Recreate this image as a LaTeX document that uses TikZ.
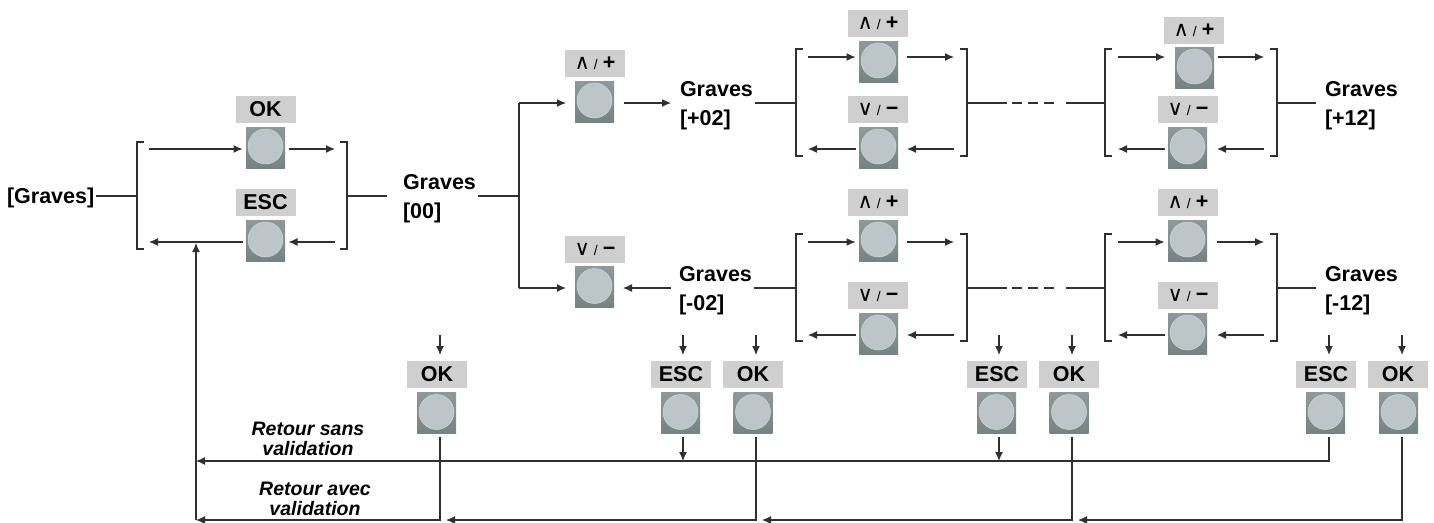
\documentclass[tikz,border=0pt]{standalone}
\usepackage{fontspec}
\setmainfont{Liberation Sans}
\newfontfamily\symfont{DejaVu Sans}
\usetikzlibrary{arrows.meta}

\definecolor{labgray}{HTML}{CFCFCF}
\definecolor{keylight}{HTML}{8E999A}
\definecolor{keydark}{HTML}{768383}
\definecolor{keycap}{HTML}{BCC6C9}
\definecolor{wire}{HTML}{303030}

\newcommand{\upkey}{{\symfont\mdseries\fontsize{21}{21}\selectfont\char"2227}\hspace{4pt}{\mdseries\fontsize{14}{14}\selectfont /}\hspace{5pt}\textbf{+}}
\newcommand{\downkey}{{\symfont\mdseries\fontsize{21}{21}\selectfont\char"2228}\hspace{4pt}{\mdseries\fontsize{14}{14}\selectfont /}\hspace{5pt}\textbf{\char"2212}}

\begin{document}
\begin{tikzpicture}[x=1pt, y=-1pt]

\tikzstyle{every node} = [inner sep=0pt]
\tikzstyle{txt} = [font=\fontsize{21.5}{29}\selectfont\bfseries, align=left, anchor=west, outer sep=2pt]
\tikzstyle{retour} = [font=\fontsize{19.5}{20}\selectfont\bfseries\itshape, align=center]
\tikzstyle{lab} = [rectangle, fill=labgray, minimum width=60pt, minimum height=27pt, outer sep=6pt, font=\fontsize{21.5}{24}\selectfont\bfseries]
\tikzstyle{btn} = [rectangle, top color=keylight, bottom color=keydark, minimum width=39pt, minimum height=41pt, outer sep=3.5pt,
  path picture={\fill[keycap, draw=keycap!70!white, line width=.5pt] (path picture bounding box.center) ++(0,-1) circle (17.5);}]
\tikzstyle{ln} = [wire, line width=1.2pt]
\tikzstyle{arr} = [ln, -{Latex[length=9pt,width=8pt]}]

\useasboundingbox (0,0) rectangle (1434,522);

\node[txt] (g) at (5,198) {[Graves]};
\node[txt] (g0) at (401,199) {Graves\\{[00]}};
\node[txt] (g1) at (678,106) {Graves\\{[+02]}};
\node[txt] (g2) at (677,291) {Graves\\{[-02]}};
\node[txt] (g3) at (1323,106) {Graves\\{[+12]}};
\node[txt] (g4) at (1323,291) {Graves\\{[-12]}};

\node[lab] (lok) at (265.5,109.5) {OK};
\node[btn] (bok) at (265.5,147.5) {};
\node[lab] (lesc) at (265.5,202.5) {ESC};
\node[btn] (besc) at (265.5,240.5) {};

\node[lab] (lp0) at (595,63.5) {\upkey};
\node[btn] (bp0) at (594.5,101.5) {};
\node[lab] (lm0) at (595,249.5) {\downkey};
\node[btn] (bm0) at (594.5,287) {};

\node[lab] (lp1) at (878,23.5) {\upkey};
\node[btn] (bp1) at (878.5,61.5) {};
\node[lab] (lm1) at (878,109.5) {\downkey};
\node[btn] (bm1) at (878.5,147.5) {};

\node[lab] (lp2) at (1194,30) {\upkey};
\node[btn] (bp2) at (1194.5,67.5) {};
\node[lab] (lm2) at (1188,109.5) {\downkey};
\node[btn] (bm2) at (1187.5,147.5) {};

\node[lab] (lp3) at (878,202.5) {\upkey};
\node[btn] (bp3) at (878.5,240.5) {};
\node[lab] (lm3) at (878,295.5) {\downkey};
\node[btn] (bm3) at (878.5,333.5) {};

\node[lab] (lp4) at (1188,202.5) {\upkey};
\node[btn] (bp4) at (1187.5,240.5) {};
\node[lab] (lm4) at (1188,295.5) {\downkey};
\node[btn] (bm4) at (1187.5,333.5) {};

\node[lab] (lok1) at (437,374.5) {OK};
\node[btn] (bok1) at (436.5,413) {};
\node[lab] (lesc1) at (681,374.5) {ESC};
\node[btn] (besc1) at (680.5,413) {};
\node[lab] (lok2) at (753,374.5) {OK};
\node[btn] (bok2) at (753,413) {};
\node[lab] (lesc2) at (997,374.5) {ESC};
\node[btn] (besc2) at (996.5,413) {};
\node[lab] (lok3) at (1069,374.5) {OK};
\node[btn] (bok3) at (1069,413) {};
\node[lab] (lesc3) at (1326,374.5) {ESC};
\node[btn] (besc3) at (1325.5,413) {};
\node[lab] (lok4) at (1398,374.5) {OK};
\node[btn] (bok4) at (1398.5,413) {};

\node[retour] (rs) at (308,439) {Retour sans\\validation};
\node[retour] (ra) at (315,498.5) {Retour avec\\validation};

% junctions
\coordinate (j0a) at (137,196);
\coordinate (j0b) at (347,196);
\coordinate (v1) at (519,103);
\coordinate (v2) at (519,288);
\coordinate (j1a) at (796,103);
\coordinate (j1b) at (967,103);
\coordinate (s1a) at (1007,103);
\coordinate (s1b) at (1066,103);
\coordinate (j2a) at (1105,103);
\coordinate (j2b) at (1277,103);
\coordinate (j3a) at (796,288);
\coordinate (j3b) at (967,288);
\coordinate (s3a) at (1007,288);
\coordinate (s3b) at (1066,288);
\coordinate (j4a) at (1105,288);
\coordinate (j4b) at (1277,288);

% arrow ends inside the brackets
\coordinate (u0a) at (149,149);
\coordinate (u0b) at (335,149);
\coordinate (d0a) at (149,242);
\coordinate (d0b) at (335,242);
\coordinate (u1a) at (808,57);
\coordinate (u1b) at (954,57);
\coordinate (d1a) at (808,149);
\coordinate (d1b) at (954,149);
\coordinate (u2a) at (1118,57);
\coordinate (u2b) at (1264,57);
\coordinate (d2a) at (1118,149);
\coordinate (d2b) at (1264,149);
\coordinate (u3a) at (808,242);
\coordinate (u3b) at (954,242);
\coordinate (d3a) at (808,335);
\coordinate (d3b) at (954,335);
\coordinate (u4a) at (1118,242);
\coordinate (u4b) at (1264,242);
\coordinate (d4a) at (1118,335);
\coordinate (d4b) at (1264,335);

% returns
\coordinate (a1) at (440,335);
\coordinate (a2) at (683,335);
\coordinate (a3) at (756,335);
\coordinate (a4) at (999,335);
\coordinate (a5) at (1072,335);
\coordinate (a6) at (1329,335);
\coordinate (a7) at (1402,335);
\coordinate (r0) at (196,461);
\coordinate (r1) at (196,520);
\coordinate (r2) at (446,520);
\coordinate (r3) at (762,520);
\coordinate (r4) at (1078,520);
\coordinate (r5) at (196,243);

% brackets
\draw[ln] (j0a) ++(7,-54) -- ++(-7,0) -- ++(0,107) -- ++(7,0);
\draw[ln] (j0b) ++(-7,-54) -- ++(7,0) -- ++(0,107) -- ++(-7,0);
\draw[ln] (j1a) ++(7,-54) -- ++(-7,0) -- ++(0,107) -- ++(7,0);
\draw[ln] (j1b) ++(-7,-54) -- ++(7,0) -- ++(0,107) -- ++(-7,0);
\draw[ln] (j2a) ++(7,-54) -- ++(-7,0) -- ++(0,107) -- ++(7,0);
\draw[ln] (j2b) ++(-7,-54) -- ++(7,0) -- ++(0,107) -- ++(-7,0);
\draw[ln] (j3a) ++(7,-54) -- ++(-7,0) -- ++(0,107) -- ++(7,0);
\draw[ln] (j3b) ++(-7,-54) -- ++(7,0) -- ++(0,107) -- ++(-7,0);
\draw[ln] (j4a) ++(7,-54) -- ++(-7,0) -- ++(0,107) -- ++(7,0);
\draw[ln] (j4b) ++(-7,-54) -- ++(7,0) -- ++(0,107) -- ++(-7,0);

\draw[ln] (j0a -| g.east) -- (j0a);
\draw[ln, shorten >=14pt] (j0b) -- (j0b -| g0.west);
\draw[ln] (j0b -| g0.east) -- (j0b -| v1);
\draw[ln] (v1) -- (v2);
\draw[arr, shorten >=5.5pt] (v1) -- (v1 -| bp0.west);
\draw[arr, shorten >=5.5pt] (v2) -- (v2 -| bm0.west);
\draw[arr, shorten <=6.5pt, shorten >=7pt] (v1 -| bp0.east) -- (v1 -| g1.west);
\draw[arr, shorten <=6pt, shorten >=5.5pt] (v2 -| g2.west) -- (v2 -| bm0.east);
\draw[ln] (j1a -| g1.east) -- (j1a);
\draw[ln] (j3a -| g2.east) -- (j3a);

\draw[ln] (j1b) -- (s1a);
\draw[ln, dash pattern=on 10pt off 6pt, shorten <=5pt, shorten >=6pt] (s1a) -- (s1b);
\draw[ln] (s1b) -- (j2a);
\draw[ln] (j3b) -- (s3a);
\draw[ln, dash pattern=on 10pt off 6pt, shorten <=5pt, shorten >=6pt] (s3a) -- (s3b);
\draw[ln] (s3b) -- (j4a);
\draw[ln, shorten >=7pt] (j2b) -- (j2b -| g3.west);
\draw[ln, shorten >=7pt] (j4b) -- (j4b -| g4.west);

\draw[arr] (u0a) -- (u0a -| bok.west);
\draw[arr] (u0a -| bok.east) -- (u0b);
\draw[arr] (d0a -| besc.west) -- (d0a);
\draw[arr] (d0b) -- (d0b -| besc.east);

\draw[arr] (u1a) -- (u1a -| bp1.west);
\draw[arr, shorten <=5.5pt] (u1a -| bp1.east) -- (u1b);
\draw[arr] (d1a -| bm1.west) -- (d1a);
\draw[arr, shorten >=5.5pt] (d1b) -- (d1b -| bm1.east);

\draw[arr, shorten >=6.5pt] (u2a) -- (u2a -| bp2.west);
\draw[arr] (u2a -| bp2.east) -- (u2b);
\draw[arr] (d2a -| bm2.west) -- (d2a);
\draw[arr, shorten >=6.5pt] (d2b) -- (d2b -| bm2.east);

\draw[arr] (u3a) -- (u3a -| bp3.west);
\draw[arr, shorten <=5.5pt] (u3a -| bp3.east) -- (u3b);
\draw[arr] (d3a -| bm3.west) -- (d3a);
\draw[arr, shorten >=5.5pt] (d3b) -- (d3b -| bm3.east);

\draw[arr] (u4a) -- (u4a -| bp4.west);
\draw[arr, shorten <=6.5pt] (u4a -| bp4.east) -- (u4b);
\draw[arr] (d4a -| bm4.west) -- (d4a);
\draw[arr, shorten >=6.5pt] (d4b) -- (d4b -| bm4.east);

\draw[arr] (a1) -- (a1 |- lok1.north);
\draw[arr] (a2) -- (a2 |- lesc1.north);
\draw[arr] (a3) -- (a3 |- lok2.north);
\draw[arr] (a4) -- (a4 |- lesc2.north);
\draw[arr] (a5) -- (a5 |- lok3.north);
\draw[arr] (a6) -- (a6 |- lesc3.north);
\draw[arr] (a7) -- (a7 |- lok4.north);

\draw[arr] (a6 |- besc3.south) |- (r0);
\draw[arr] (a2 |- besc1.south) -- (a2 |- r0);
\draw[arr] (a4 |- besc2.south) -- (a4 |- r0);

\draw[arr] (a1 |- bok1.south) |- (r1);
\draw[arr] (a3 |- bok2.south) |- (r2);
\draw[arr] (a5 |- bok3.south) |- (r3);
\draw[arr] (a7 |- bok4.south) |- (r4);
\draw[arr] (r1) -- (r5);

\end{tikzpicture}
\end{document}
